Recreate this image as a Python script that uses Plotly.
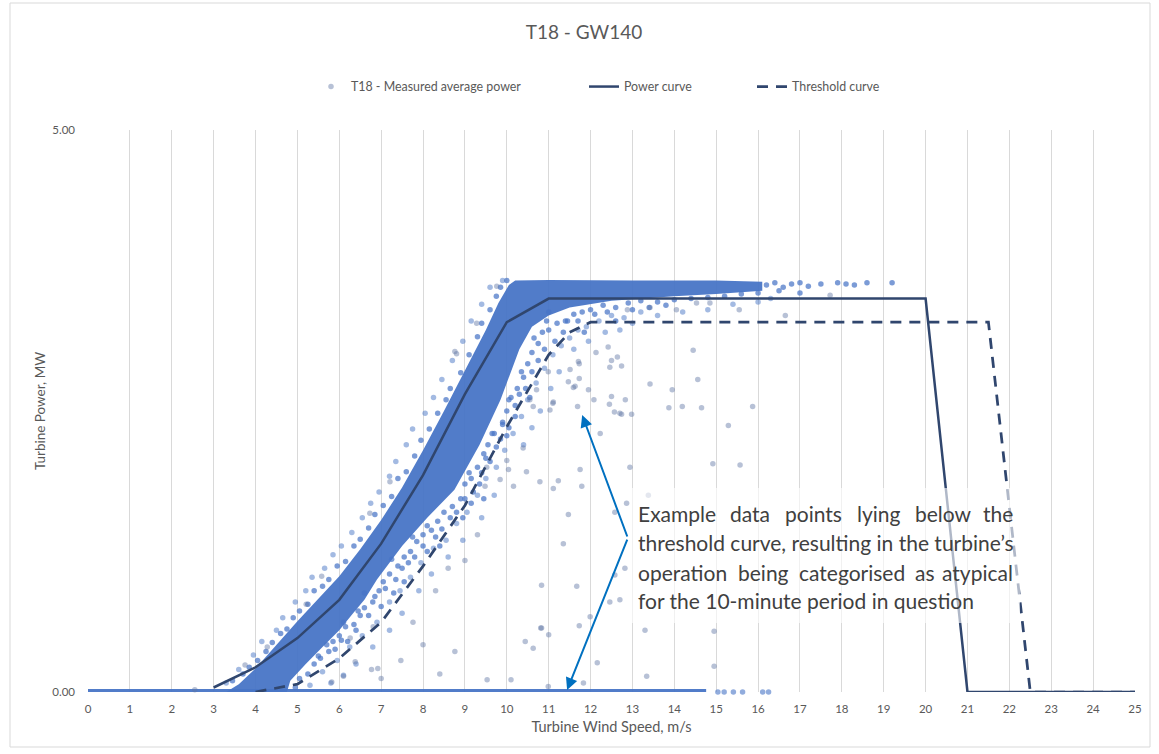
import plotly.graph_objects as go

# ---------------- data ----------------
# Power curve (wind speed m/s, power MW)
pc_ws = [3, 4, 5, 6, 7, 8, 9, 10, 11, 20, 21, 25]
pc_mw = [0.04, 0.22, 0.48, 0.82, 1.32, 1.93, 2.65, 3.29, 3.50, 3.50, 0.0, 0.0]

# Threshold curve
th_ws = [4, 5, 6, 7, 8, 9, 10, 11, 11.5, 12, 21.5, 22.5, 25]
th_mw = [0.0, 0.07, 0.30, 0.62, 1.12, 1.66, 2.36, 3.00, 3.20, 3.29, 3.29, 0.0, 0.0]

# Outline of the densely packed core of measured points (too dense to resolve individually)
core_ws = [3.3, 3.6, 4.0, 4.5, 5.0, 5.5, 6.0, 6.5, 7.0, 7.5, 8.0, 8.5, 9.0, 9.5, 9.8, 10.05, 10.2,
           11.0, 13.0, 15.0, 16.1,
           16.1, 15.0, 14.0, 12.5, 11.5, 11.0, 10.6,
           10.3, 9.85, 9.35, 8.75, 8.1, 7.5, 6.9, 6.6, 6.33, 6.0, 5.6, 5.2, 4.83, 4.75]
core_mw = [0.0, 0.07, 0.21, 0.42, 0.63, 0.83, 1.03, 1.27, 1.53, 1.82, 2.15, 2.50, 2.86, 3.22, 3.46, 3.62, 3.66,
           3.665, 3.66, 3.66, 3.65,
           3.57, 3.54, 3.52, 3.48, 3.42, 3.35, 3.25,
           3.05, 2.60, 2.20, 1.80, 1.55, 1.30, 1.00, 0.82, 0.70, 0.55, 0.40, 0.25, 0.10, 0.0]

# Continuous run of zero-power readings, and the isolated zero readings after it
zero_run_ws = [0.0, 14.76]
zero_run_mw = [0.0, 0.0]
zero_pts_ws = [15.04, 15.19, 15.41, 15.63, 16.11, 16.25]
zero_pts_mw = [0, 0, 0, 0, 0, 0]

# Closely packed readings just outside the dense core
near_ws = [3.45, 3.7, 3.85, 4.05, 4.25, 4.4, 4.6, 4.75, 4.9, 5.05, 5.25, 5.4, 5.6, 5.75, 5.95, 6.15, 6.35,
           6.5, 6.7, 6.85, 7.05, 7.25, 7.4, 7.6, 7.8, 7.95, 8.15, 8.35, 8.55, 8.65, 8.9, 9.1, 9.3, 9.4,
           9.6, 9.75, 9.85, 10.0,
           4.95, 5.05, 5.25, 5.4, 5.55, 5.75, 5.85, 6.05, 6.15, 6.35, 6.5, 6.6, 6.8, 6.95, 7.05, 7.2,
           7.4, 7.55, 7.7, 7.85, 8.0, 8.2, 8.35, 8.5, 8.7, 8.9, 9.0, 9.15, 9.3, 9.5, 9.55, 9.7, 9.9,
           10.0, 10.1, 10.25, 10.35, 10.5, 10.6, 10.75, 10.85, 11.0, 11.2, 11.4, 11.6, 11.8, 12.0, 12.3,
           12.6, 12.9, 13.2, 13.6, 14.0, 14.4, 14.8, 15.2, 15.6, 16.0,
           16.2, 16.4, 16.6, 16.8, 17.0, 17.2, 17.5, 17.9, 18.1, 18.3, 18.6, 19.2, 16.5, 17.0,
           5.5, 5.7, 5.9, 6.0, 6.2, 6.4, 6.1, 6.45, 6.7, 6.6, 6.85, 7.0, 7.1, 7.3, 7.35, 7.55,
           7.25, 7.5, 7.65, 7.8, 7.75, 8.0, 8.1, 8.3, 8.45, 8.4, 8.1,
           8.65, 8.8, 8.95, 9.0, 9.2, 9.15, 9.35, 9.1, 9.4, 9.45,
           9.45, 9.6, 9.75, 9.65, 9.85, 9.9, 10.05, 10.0, 10.2,
           10.05, 10.2, 10.3, 10.45, 10.4, 10.6, 10.55, 10.75, 10.9, 10.65,
           11.15, 11.35, 11.45, 11.7, 11.85, 12.1, 12.4, 12.6, 13.0, 13.4, 13.8, 11.0, 10.95]
near_mw = [0.10, 0.16, 0.22, 0.28, 0.36, 0.44, 0.52, 0.56, 0.66, 0.72, 0.78, 0.90, 0.94, 1.00, 1.12, 1.16, 1.30,
           1.36, 1.46, 1.58, 1.66, 1.74, 1.90, 1.96, 2.10, 2.24, 2.34, 2.48, 2.60, 2.70, 2.84, 3.00, 3.16, 3.28,
           3.40, 3.52, 3.60, 3.66,
           0.04, 0.12, 0.16, 0.25, 0.30, 0.36, 0.45, 0.46, 0.58, 0.60, 0.68, 0.75, 0.80, 0.90, 0.98, 1.05,
           1.12, 1.20, 1.25, 1.34, 1.40, 1.44, 1.52, 1.60, 1.65, 1.72, 1.85, 1.90, 2.00, 2.08, 2.20, 2.30, 2.38,
           2.50, 2.62, 2.70, 2.85, 2.92, 3.02, 3.10, 3.20, 3.22, 3.28, 3.30, 3.36, 3.38, 3.40, 3.44,
           3.42, 3.46, 3.48, 3.47, 3.49, 3.50, 3.51, 3.52, 3.54, 3.55,
           3.62, 3.64, 3.60, 3.63, 3.64, 3.61, 3.63, 3.64, 3.63, 3.62, 3.64, 3.64, 3.57, 3.55,
           0.32, 0.42, 0.38, 0.50, 0.45, 0.55, 0.62, 0.72, 0.68, 0.88, 0.85, 0.76, 0.92, 0.88, 1.00, 0.98,
           1.18, 1.10, 1.15, 1.20, 1.38, 1.30, 1.25, 1.38, 1.45, 1.30, 1.48,
           1.55, 1.60, 1.55, 1.72, 1.78, 1.68, 1.85, 1.95, 1.95, 1.72,
           2.12, 2.05, 2.18, 2.30, 2.25, 2.40, 2.35, 2.28, 2.45,
           2.60, 2.55, 2.65, 2.70, 2.80, 2.85, 2.62, 2.95, 3.05, 3.15,
           3.12, 3.20, 3.30, 3.30, 3.20, 3.36, 3.38, 3.30, 3.40, 3.42, 3.44, 3.38, 3.30]

# Looser readings around the core (outer fringe, and gap towards the threshold curve)
gap_ws = [5.3, 5.6, 5.95, 6.25, 6.55, 6.9, 7.2, 7.45, 7.7, 7.95, 8.25, 8.55, 8.8, 9.05, 9.3, 9.5, 9.75,
          9.95, 10.15, 10.35, 10.5, 10.7, 10.9, 11.1, 11.3, 11.5, 11.7, 11.9, 12.2, 12.5, 12.8, 13.2,
          10.8, 11.05, 11.25, 10.6, 10.4, 9.7, 9.4, 8.95, 8.6, 8.2, 7.9, 7.5, 7.2, 6.8, 6.4, 6.1, 5.8,
          11.6, 11.95, 12.35, 12.7, 13.0, 13.6, 14.2, 14.8, 15.4, 16.0, 16.3,
          3.3, 3.6, 3.95, 4.15, 4.5, 4.65, 4.95, 5.2, 5.35, 5.65, 5.85, 6.05, 6.3, 6.55, 6.75, 6.95,
          7.2, 7.35, 7.6, 7.75, 8.05, 8.25, 8.45, 8.7, 8.95, 9.15, 9.4, 9.6, 9.9]
gap_mw = [0.06, 0.18, 0.28, 0.40, 0.50, 0.62, 0.80, 0.90, 1.02, 1.15, 1.28, 1.35, 1.50, 1.60, 1.75, 1.90, 2.00,
          2.15, 2.30, 2.45, 2.60, 2.75, 2.88, 3.00, 3.08, 3.15, 3.22, 3.25, 3.30, 3.35, 3.33, 3.38,
          2.50, 2.70, 2.85, 2.35, 2.20, 1.75, 1.55, 1.35, 1.20, 1.05, 0.90, 0.70, 0.55, 0.40, 0.25, 0.15, 0.08,
          3.05, 3.12, 3.20, 3.22, 3.28, 3.35, 3.38, 3.40, 3.45, 3.47, 3.50,
          0.08, 0.20, 0.33, 0.45, 0.55, 0.66, 0.80, 0.90, 1.02, 1.10, 1.22, 1.30, 1.42, 1.55, 1.68, 1.78,
          1.92, 2.05, 2.20, 2.34, 2.48, 2.62, 2.78, 2.95, 3.12, 3.30, 3.45, 3.60, 3.66]

# Scattered (atypical) readings
out_ws = [2.55, 3.75, 4.28, 5.21, 5.58, 6.73, 7.21, 8.76, 9.28, 9.76, 8.8,
          5.82, 6.10, 6.38, 6.77, 6.26, 6.81, 7.47, 8.00, 8.76, 9.53, 7.76, 6.92, 9.00, 8.30, 8.60, 9.30,
          9.52, 9.48, 9.84,
          10.00, 10.04, 10.16, 10.39, 10.47, 10.79, 10.63, 10.55, 10.71, 10.99, 11.03, 11.11, 11.11, 11.23,
          11.75, 11.79, 12.23, 11.10, 11.47, 11.51, 11.59, 11.63, 11.69, 11.71, 11.73, 11.73, 11.95, 12.08,
          12.13, 12.42, 12.46, 12.50, 12.64, 12.74, 12.50, 12.45, 12.70, 12.83, 12.57, 12.74, 12.98,
          12.88, 13.42, 14.05, 14.53, 14.85, 14.45, 14.56, 13.42, 13.95, 13.87, 14.19, 14.65, 15.87, 15.29,
          15.55, 16.65, 17.72,
          12.94, 14.92, 15.57, 13.38, 12.58, 12.86, 11.47, 11.35, 12.58, 12.82, 11.67, 10.83, 12.46, 12.70,
          11.73, 11.99, 10.83, 13.30, 14.95, 12.16, 13.34, 14.95, 11.83, 10.99, 10.44, 10.81, 11.00, 10.63,
          10.10, 7.00, 8.40]
out_mw = [0.02, 0.24, 0.40, 0.78, 1.03, 1.59, 1.87, 3.03, 3.28, 3.61, 3.01,
          0.09, 0.14, 0.27, 0.20, 0.48, 0.58, 0.28, 0.42, 0.36, 0.11, 0.62, 0.21, 1.17, 0.90, 1.10, 1.40,
          2.00, 1.83, 1.89,
          2.06, 1.98, 1.83, 2.17, 1.96, 1.87, 2.54, 2.60, 2.69, 2.85, 2.51, 2.58, 1.81, 1.88,
          1.98, 1.83, 2.30, 2.57, 2.76, 2.87, 2.71, 2.72, 2.54, 2.94, 2.92, 2.79, 2.69, 2.60,
          3.02, 3.07, 2.89, 2.95, 2.98, 2.90, 2.63, 2.56, 2.48, 2.60, 2.49, 2.47, 2.47,
          3.40, 3.42, 3.40, 3.46, 3.46, 3.04, 2.78, 2.74, 2.69, 2.53, 2.54, 2.53, 2.54, 2.37,
          3.40, 3.35, 3.53,
          2.00, 2.03, 2.02, 1.75, 1.60, 1.68, 1.58, 1.32, 1.04, 1.10, 0.94, 0.95, 0.80, 0.82,
          0.59, 0.67, 0.57, 0.55, 0.54, 0.26, 0.14, 0.23, 0.08, 0.05, 0.45, 0.57, 0.51, 0.39,
          0.11, 0.12, 0.16]

title_text = "T18 - GW140"
x_ticks = list(range(0, 26))
y_ticks = [0, 5]

# ---------------- styling ----------------
FONT = "Lato"
GRAY = "#595959"
LINE_C = "#30466E"

fig = go.Figure()

fig.add_trace(go.Scatter(x=core_ws, y=core_mw, mode="lines", fill="toself",
                         fillcolor="rgba(72,117,198,0.95)", line=dict(width=0),
                         showlegend=False, hoverinfo="skip", cliponaxis=False))
fig.add_trace(go.Scatter(x=zero_run_ws, y=zero_run_mw, mode="lines",
                         line=dict(width=6, color="rgba(72,117,198,0.95)"),
                         showlegend=False, hoverinfo="skip", cliponaxis=False))
fig.add_trace(go.Scatter(x=zero_pts_ws, y=zero_pts_mw, mode="markers",
                         marker=dict(size=5.5, color="rgba(72,117,198,0.6)"),
                         showlegend=False, cliponaxis=False))
fig.add_trace(go.Scatter(x=near_ws, y=near_mw, mode="markers",
                         marker=dict(size=5.5, color="rgba(72,117,198,0.72)"),
                         showlegend=False, cliponaxis=False))
fig.add_trace(go.Scatter(x=gap_ws, y=gap_mw, mode="markers",
                         marker=dict(size=5.5, color="rgba(72,117,198,0.5)"),
                         showlegend=False, cliponaxis=False))
fig.add_trace(go.Scatter(x=out_ws, y=out_mw, mode="markers", name="T18 - Measured average power",
                         marker=dict(size=5.5, color="rgba(95,118,165,0.45)"),
                         legend="legend", cliponaxis=False))
fig.add_trace(go.Scatter(x=pc_ws, y=pc_mw, mode="lines", name="Power curve",
                         line=dict(color=LINE_C, width=2.5), legend="legend2", cliponaxis=False))
fig.add_trace(go.Scatter(x=th_ws, y=th_mw, mode="lines", name="Threshold curve",
                         line=dict(color=LINE_C, width=2.75, dash="11px,8px"),
                         legend="legend3", cliponaxis=False))

L, R, T, B = 88, 24, 130, 62
W, H = 1159, 754
PW, PH = W - L - R, H - T - B


def px(xp):
    return (xp - L) / PW


def py(yp):
    return (H - B - yp) / PH


leg_common = dict(orientation="h", yanchor="middle", y=py(87), xanchor="left",
                  font=dict(family=FONT, size=12.4, color=GRAY), bgcolor="rgba(0,0,0,0)",
                  borderwidth=0)

fig.update_layout(
    width=W, height=H,
    margin=dict(l=L, r=R, t=T, b=B),
    paper_bgcolor="white", plot_bgcolor="white",
    font=dict(family=FONT, color=GRAY),
    title=dict(text=title_text, x=584 / W, xanchor="center", y=1 - 32 / H, yanchor="middle",
               font=dict(family=FONT, size=19, color=GRAY)),
    legend=dict(x=px(311), **leg_common),
    legend2=dict(x=px(584), **leg_common),
    legend3=dict(x=px(752), **leg_common),
    xaxis=dict(range=[0, 25], tickvals=x_ticks, ticktext=[str(v) for v in x_ticks],
               showgrid=True, gridcolor="#D9D9D9", gridwidth=1, zeroline=False, showline=False,
               ticks="", tickfont=dict(family=FONT, size=11.5, color=GRAY), ticklabelstandoff=8,
               title=dict(text="Turbine Wind Speed, m/s", standoff=8,
                          font=dict(family=FONT, size=14.5, color=GRAY))),
    yaxis=dict(range=[0, 5], tickvals=y_ticks, ticktext=["%.2f" % v for v in y_ticks],
               showgrid=True, gridcolor="#D9D9D9", gridwidth=1, zeroline=False, showline=False,
               ticks="", tickfont=dict(family=FONT, size=11.5, color=GRAY), ticklabelstandoff=12,
               title=dict(text="Turbine Power, MW", standoff=3,
                          font=dict(family=FONT, size=13.5, color=GRAY))),
)

shapes = [
    # chart border
    dict(type="rect", xref="paper", yref="paper", x0=px(10), x1=px(1150), y0=py(747), y1=py(3),
         line=dict(color="#D9D9D9", width=1), fillcolor="rgba(0,0,0,0)", layer="below"),
    # translucent text box
    dict(type="rect", xref="paper", yref="paper", x0=px(630), x1=px(1020), y0=py(623), y1=py(488),
         line=dict(width=0), fillcolor="rgba(255,255,255,0.62)", layer="above"),
]
fig.update_layout(shapes=shapes)

TXT = dict(family=FONT, size=21, color="#404040")
ann = []
line_y = [513, 542, 572, 600]
words1 = [("Example", 636), ("data", 728), ("points", 783), ("lying", 855), ("below", 913)]
words3 = [("operation", 636), ("being", 736), ("categorised", 797), ("as", 913)]
for w, xp in words1:
    ann.append(dict(text=w, x=px(xp), y=py(line_y[0]), xanchor="left"))
ann.append(dict(text="the", x=px(1015), y=py(line_y[0]), xanchor="right"))
ann.append(dict(text="threshold curve, resulting in the turbine\u2019s", x=px(636), y=py(line_y[1]),
                xanchor="left"))
for w, xp in words3:
    ann.append(dict(text=w, x=px(xp), y=py(line_y[2]), xanchor="left"))
ann.append(dict(text="atypical", x=px(1015), y=py(line_y[2]), xanchor="right"))
ann.append(dict(text="for the 10-minute period in question", x=px(636), y=py(line_y[3]), xanchor="left"))
for a in ann:
    a.update(xref="paper", yref="paper", yanchor="middle", showarrow=False, font=TXT)

# arrows from bracket vertex
vx, vy = 12.89, 1.37
for hx, hy in [(11.80, 2.464), (11.44, 0.018)]:
    ann.append(dict(x=hx, y=hy, ax=vx, ay=vy, xref="x", yref="y", axref="x", ayref="y",
                    text="", showarrow=True, arrowhead=2, arrowsize=1.2, arrowwidth=2,
                    arrowcolor="#0070C0"))
fig.update_layout(annotations=ann)

fig.write_html("out.html")
